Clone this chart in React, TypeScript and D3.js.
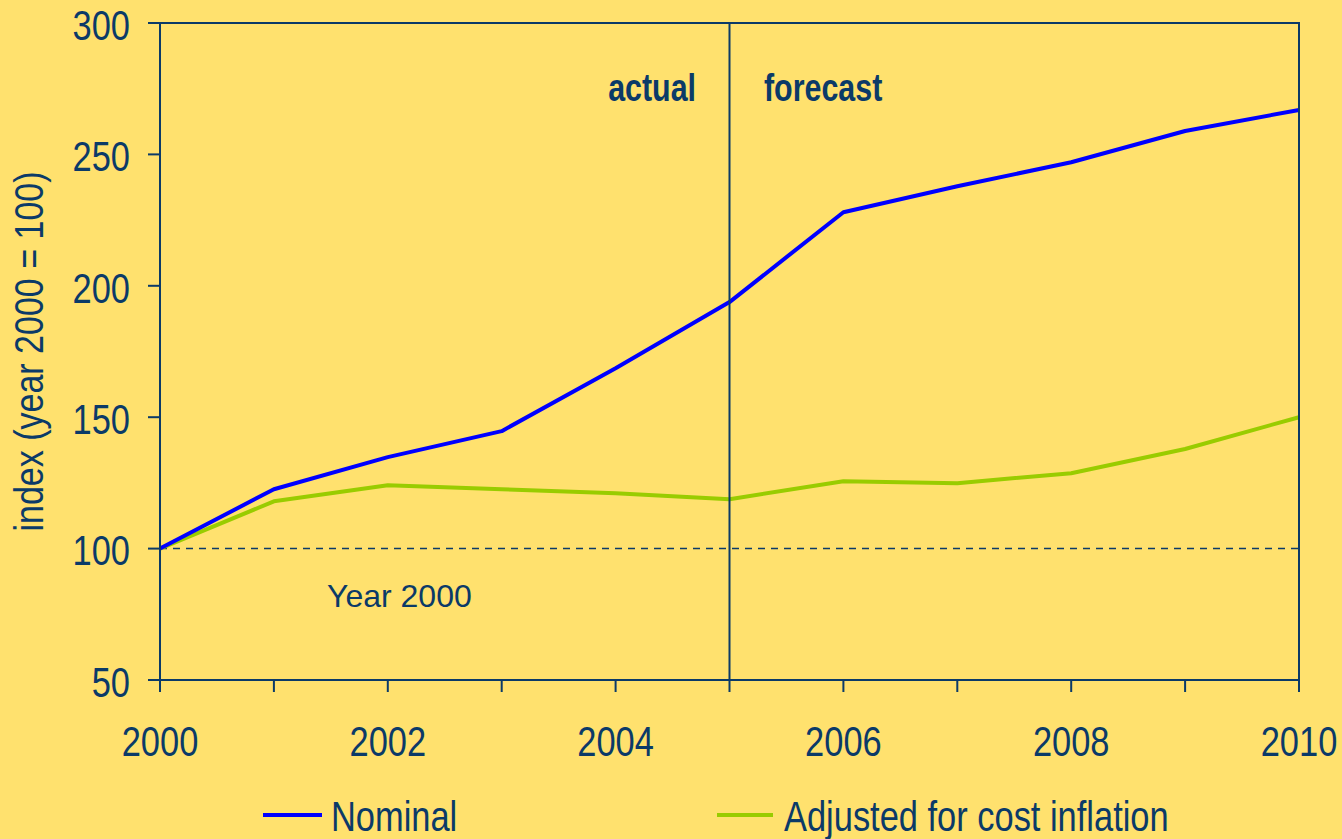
import React from "react";
import * as d3 from "d3";

const years = [2000, 2001, 2002, 2003, 2004, 2005, 2006, 2007, 2008, 2009, 2010];
const nominal = [100, 122.6, 134.8, 144.7, 168.6, 193.8, 228.0, 237.9, 247.0, 258.9, 266.9];
const adjusted = [100, 118.0, 124.1, 122.6, 121.1, 118.8, 125.6, 124.9, 128.7, 137.9, 150.0];
const yTicks = [50, 100, 150, 200, 250, 300];
const xTickLabels = [2000, 2002, 2004, 2006, 2008, 2010];
const seriesNames = ["Nominal", "Adjusted for cost inflation"];

const W = 1342, H = 839;
const BG = "#FFE16E";
const NAVY = "#0B3A68";
const FONT = "'Liberation Sans Narrow', 'Arial Narrow', 'Liberation Sans', Arial, sans-serif";
const SX = 0.82;

function NText(props: {
  x: number; y: number; size: number; anchor?: string; weight?: string; dy?: string;
  rotate?: number; sx?: number; children: React.ReactNode;
}) {
  const { x, y, size, anchor = "start", weight = "normal", dy, rotate = 0, sx = SX, children } = props;
  return (
    <text
      transform={`translate(${x},${y}) rotate(${rotate}) scale(${sx},1)`}
      textAnchor={anchor as any}
      fontFamily={FONT}
      fontSize={size}
      fontWeight={weight}
      fill={NAVY}
      dy={dy}
    >
      {children}
    </text>
  );
}

export default function App() {
  const x = d3.scaleLinear().domain([2000, 2010]).range([160, 1299]);
  const y = d3.scaleLinear().domain([50, 300]).range([680, 23]);
  const line = d3.line<number>().x((_, i) => x(years[i])).y((d) => y(d));
  const [x0, x1] = x.range();
  const [yb, yt] = y.range();

  return (
    <svg width={W} height={H} style={{ position: "absolute", left: 0, top: 0, display: "block" }}>
      <rect x={0} y={0} width={W} height={H} fill={BG} />
      {/* dashed reference line at 100 */}
      <line x1={x0} x2={x1} y1={y(100)} y2={y(100)} stroke={NAVY} strokeWidth={1.5} strokeDasharray="7,6" />
      {/* series */}
      <path d={line(adjusted) || ""} fill="none" stroke="#99CC00" strokeWidth={4} strokeLinejoin="round" />
      <path d={line(nominal) || ""} fill="none" stroke="#0000FF" strokeWidth={4} strokeLinejoin="round" />
      {/* frame */}
      <rect x={x0} y={yt} width={x1 - x0} height={yb - yt} fill="none" stroke={NAVY} strokeWidth={2} />
      {/* actual/forecast divider */}
      <line x1={x(2005)} x2={x(2005)} y1={yt} y2={yb} stroke={NAVY} strokeWidth={2} />
      {/* y ticks */}
      {yTicks.map((t) => (
        <g key={t}>
          <line x1={x0 - 12} x2={x0} y1={y(t)} y2={y(t)} stroke={NAVY} strokeWidth={2} />
          <NText x={130} y={y(t)} dy="0.4em" anchor="end" size={42}>
            {t}
          </NText>
        </g>
      ))}
      {/* x ticks */}
      {years.map((yr) => (
        <line key={yr} x1={x(yr)} x2={x(yr)} y1={yb} y2={yb + 12} stroke={NAVY} strokeWidth={2} />
      ))}
      {xTickLabels.map((yr) => (
        <NText key={yr} x={x(yr)} y={756} anchor="middle" size={42}>
          {yr}
        </NText>
      ))}
      {/* y axis title */}
      <NText x={43} y={y(175)} rotate={-90} anchor="middle" size={41} sx={0.83}>
        index (year 2000 = 100)
      </NText>
      {/* annotations */}
      <NText x={696} y={101} anchor="end" size={38} weight="bold" sx={0.8}>
        actual
      </NText>
      <NText x={764} y={101} anchor="start" size={38} weight="bold" sx={0.8}>
        forecast
      </NText>
      <text x={327} y={607} fontFamily="'Liberation Sans', Arial, sans-serif" fontSize={32} fill={NAVY}>
        Year 2000
      </text>
      {/* legend */}
      <line x1={263} x2={322} y1={815} y2={815} stroke="#0000FF" strokeWidth={4} />
      <NText x={331} y={831} size={42}>
        {seriesNames[0]}
      </NText>
      <line x1={717} x2={773} y1={815} y2={815} stroke="#99CC00" strokeWidth={4} />
      <NText x={784} y={831} size={42}>
        {seriesNames[1]}
      </NText>
    </svg>
  );
}
